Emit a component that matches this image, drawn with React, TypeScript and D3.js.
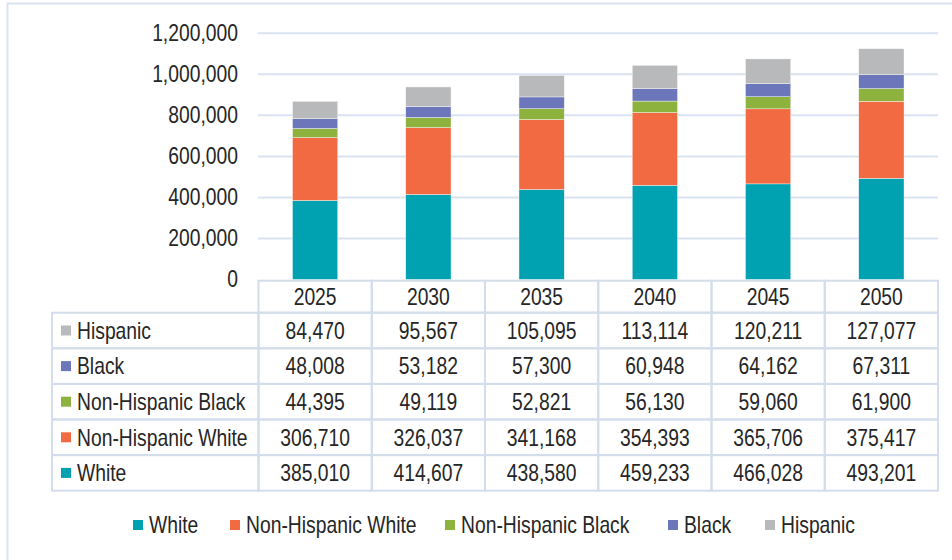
import * as d3 from 'd3'

const years = ['2025', '2030', '2035', '2040', '2045', '2050']
const seriesNames = ['White', 'Non-Hispanic White', 'Non-Hispanic Black', 'Black', 'Hispanic']
const white = [385010, 414607, 438580, 459233, 466028, 493201]
const nonHispanicWhite = [306710, 326037, 341168, 354393, 365706, 375417]
const nonHispanicBlack = [44395, 49119, 52821, 56130, 59060, 61900]
const black = [48008, 53182, 57300, 60948, 64162, 67311]
const hispanic = [84470, 95567, 105095, 113114, 120211, 127077]
const colors = ['#00a2b1', '#f26a42', '#8db33e', '#6c76ba', '#b8b9bb']
const yTicks = [0, 200000, 400000, 600000, 800000, 1000000, 1200000]

const W = 952
const H = 560
const FONT = '"Liberation Sans", Arial, sans-serif'
const TEXT = '#262626'
const GRID = '#d9e2f0'
const BORDER = '#d3ddec'
const FS = 23
const SX = 0.84 // narrow the font like Arial Narrow

// condensed text: scaled horizontally around its anchor point
function NText(props: { x: number, y: number, anchor?: string, children: any }) {
  const { x, y, anchor, children } = props
  return (
    <g transform={`translate(${x},${y}) scale(${SX},1)`}>
      <text x={0} y={0} dy="0.36em" textAnchor={anchor || 'start'} fontSize={FS} fill={TEXT}>{children}</text>
    </g>
  )
}

export default function App() {
  const values = [white, nonHispanicWhite, nonHispanicBlack, black, hispanic]
  const rows = years.map((yr, i) => {
    const r: any = { year: yr }
    seriesNames.forEach((s, k) => { r[s] = values[k][i] })
    return r
  })
  const stacked = d3.stack<any>().keys(seriesNames)(rows)

  const x = d3.scaleBand().domain(years).range([258.5, 938]).paddingInner(0).paddingOuter(0)
  const y = d3.scaleLinear().domain([0, 1200000]).range([279.5, 33.3])
  const fmt = d3.format(',')
  const barW = x.bandwidth() * 0.4

  const headTop = 280.7
  const tableTop = 312.7
  const rowH = 35.6
  const tableLeft = 52
  const tableOrder = [4, 3, 2, 1, 0] // Hispanic first

  const legendX = [133, 230, 445, 668, 765]

  return (
    <svg width={W} height={H} style={{ position: 'absolute', left: 0, top: 0, background: '#fff' }} fontFamily={FONT}>
      <rect x={7.5} y={3.5} width={980} height={600} fill="#fff" stroke={GRID} strokeWidth={2} />
      {/* grid */}
      {yTicks.map(t => (
        <g key={t}>
          {t > 0 && <line x1={258} x2={938} y1={y(t)} y2={y(t)} stroke={GRID} strokeWidth={2} />}
          <NText x={238} y={y(t) - 1} anchor="end">{fmt(t)}</NText>
        </g>
      ))}
      {/* bars */}
      {stacked.map((layer, k) => (
        <g key={layer.key} fill={colors[k]}>
          {layer.map((d, i) => (
            <rect key={i} x={(x(years[i]) as number) + (x.bandwidth() - barW) / 2} width={barW}
              y={y(d[1])} height={y(d[0]) - y(d[1])} stroke="#fff" strokeWidth={0.4} />
          ))}
        </g>
      ))}
      {/* table header */}
      {years.map(yr => (
        <g key={yr}>
          <rect x={x(yr)} y={headTop} width={x.bandwidth()} height={tableTop - headTop} fill="none" stroke={BORDER} strokeWidth={2} />
          <NText x={(x(yr) as number) + x.bandwidth() / 2} y={(headTop + tableTop) / 2} anchor="middle">{yr}</NText>
        </g>
      ))}
      {/* table body */}
      {tableOrder.map((k, r) => {
        const ry = tableTop + r * rowH
        return (
          <g key={seriesNames[k]}>
            <rect x={tableLeft} y={ry} width={258.5 - tableLeft} height={rowH} fill="none" stroke={BORDER} strokeWidth={2} />
            <rect x={61} y={ry + rowH / 2 - 5} width={10} height={10} fill={colors[k]} />
            <NText x={77} y={ry + rowH / 2}>{seriesNames[k]}</NText>
            {years.map((yr, i) => (
              <g key={yr}>
                <rect x={x(yr)} y={ry} width={x.bandwidth()} height={rowH} fill="none" stroke={BORDER} strokeWidth={2} />
                <NText x={(x(yr) as number) + x.bandwidth() / 2} y={ry + rowH / 2} anchor="middle">{fmt(values[k][i])}</NText>
              </g>
            ))}
          </g>
        )
      })}
      {/* legend */}
      {seriesNames.map((s, k) => (
        <g key={s}>
          <rect x={legendX[k]} y={520} width={10} height={10} fill={colors[k]} />
          <NText x={legendX[k] + 16} y={525}>{s}</NText>
        </g>
      ))}
    </svg>
  )
}
